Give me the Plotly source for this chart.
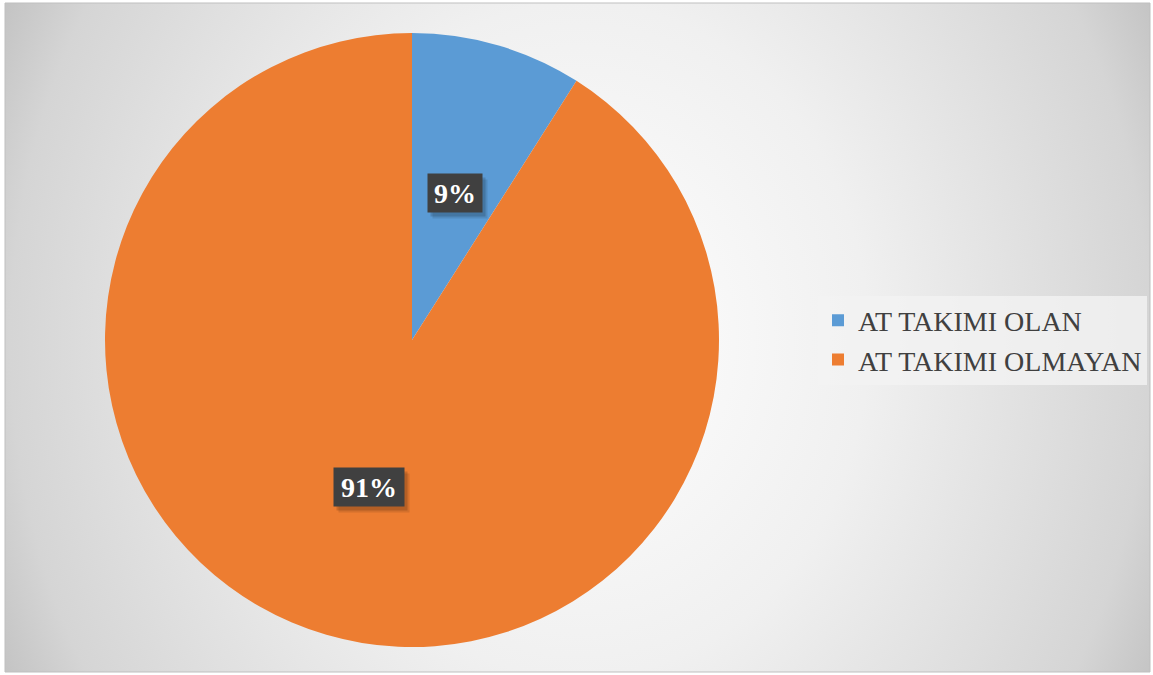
import math
import base64
import plotly.graph_objects as go

# data
labels = ["AT TAKIMI OLAN", "AT TAKIMI OLMAYAN"]
values = [9, 91]
colors = ["#5B9BD5", "#ED7D31"]

W, H = 1153, 675
cx, cy, r = 412, 335, 307  # pie centre/radius in px (from bottom)
FX0, FY0, FW, FH = 5, 3, 1145, 669  # chart frame (from top-left)

# elliptical radial gradient background, drawn as an svg image
svg = f"""<svg xmlns='http://www.w3.org/2000/svg' width='{FW}' height='{FH}' viewBox='0 0 {FW} {FH}' preserveAspectRatio='none'>
<defs><radialGradient id='g' gradientUnits='userSpaceOnUse' cx='575' cy='337' r='640'
 gradientTransform='translate(575 337) scale(1 1.17) translate(-575 -337)'>
<stop offset='0' stop-color='#ffffff'/><stop offset='0.45' stop-color='#f0f0f0'/>
<stop offset='0.89' stop-color='#d5d5d5'/><stop offset='1' stop-color='#c4c4c4'/></radialGradient></defs>
<rect width='{FW}' height='{FH}' fill='url(#g)'/></svg>"""
bg_uri = "data:image/svg+xml;base64," + base64.b64encode(svg.encode()).decode()

fig = go.Figure()
fig.add_trace(go.Pie(
    labels=labels,
    values=values,
    marker=dict(colors=colors),
    sort=False,
    direction="clockwise",
    rotation=0,
    textinfo="none",
    hoverinfo="label+percent",
    domain=dict(x=[(cx - r) / W, (cx + r) / W], y=[(cy - r) / H, (cy + r) / H]),
))

# percentage labels in dark boxes, placed at the slice mid-angle, half radius
total = sum(values)
start = 0.0
annotations = []
for v in values:
    frac = v / total
    mid = (start + frac / 2) * 2 * math.pi
    start += frac
    ax = (cx + 0.5 * r * math.sin(mid)) / W
    ay = (cy + 0.5 * r * math.cos(mid)) / H
    txt = f"{round(frac * 100)}%"
    bw = 22 + 16 * len(txt)
    common = dict(x=ax, y=ay, xref="paper", yref="paper", showarrow=False,
                  xanchor="center", yanchor="middle", borderpad=0, width=bw, height=38)
    # soft shadow
    for dx, dy, a in [(5, -6, 0.10), (3, -4, 0.15)]:
        annotations.append(dict(common, text="", xshift=dx, yshift=dy,
                                bgcolor=f"rgba(0,0,0,{a})", font=dict(size=27)))
    annotations.append(dict(common, text=f"<b>{txt}</b>", bgcolor="#404040",
                            font=dict(family="Liberation Serif", size=28, color="#ffffff")))

fig.update_layout(
    width=W, height=H,
    margin=dict(l=0, r=0, t=0, b=0),
    paper_bgcolor="#ffffff",
    images=[dict(source=bg_uri, xref="paper", yref="paper", x=FX0 / W, y=1 - FY0 / H,
                 sizex=FW / W, sizey=FH / H, sizing="stretch", layer="below",
                 xanchor="left", yanchor="top")],
    shapes=[dict(type="rect", xref="paper", yref="paper", x0=FX0 / W, x1=(FX0 + FW) / W,
                 y0=1 - (FY0 + FH) / H, y1=1 - FY0 / H, line=dict(color="#bfbfbf", width=1))],
    annotations=annotations,
    showlegend=True,
    legend=dict(x=818 / W, y=1 - 340 / H, xanchor="left", yanchor="middle",
                bgcolor="rgba(242,242,242,0.8)",
                font=dict(family="Liberation Serif", size=28, color="#404040")),
    font=dict(family="Liberation Serif"),
)

fig.write_html("out.html", config={"displayModeBar": False},
               post_script="document.body.style.margin='0';")
